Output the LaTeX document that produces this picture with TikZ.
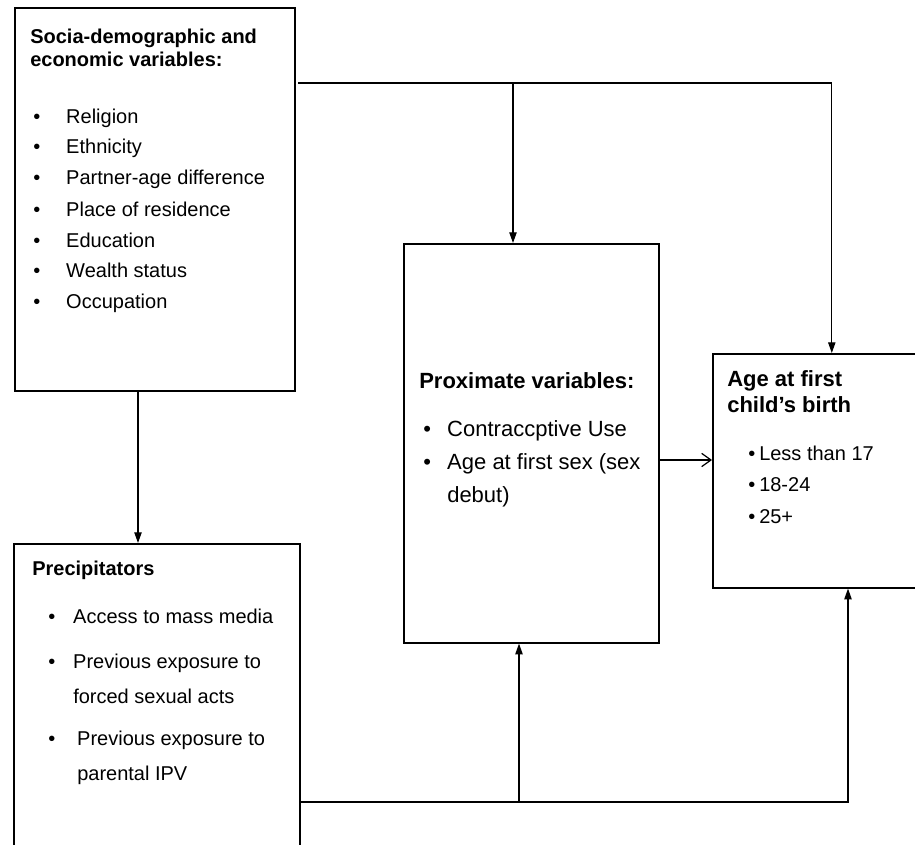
\documentclass[tikz,border=0pt]{standalone}
\usepackage{fontspec}
\setmainfont{Liberation Sans}
\usetikzlibrary{arrows.meta,positioning,calc}

\newcommand{\bul}[1][24.75pt]{\makebox[#1][l]{\textbullet}}

\begin{document}
\begin{tikzpicture}[x=0.75pt,y=-0.75pt,
    box/.style={draw,line width=1.2pt,anchor=north west,inner sep=0pt},
    hdr/.style={font=\fontsize{15}{17.25}\selectfont\bfseries,align=left,
                anchor=base west,inner sep=0pt},
    lst/.style={font=\fontsize{15}{23.25}\selectfont,align=left,
                anchor=base west,inner sep=0pt},
    link/.style={line width=0.9pt},
    arr/.style={link,-{Triangle[length=8pt,width=5.5pt]}}]

    \useasboundingbox (0,0) rectangle (915,845);

    % the four boxes
    \node[box,minimum width=210pt,minimum height=287.25pt] (socio) at (14,7) {};
    \node[box,minimum width=214.5pt,minimum height=300pt] (prec) at (13,543) {};
    \node[box,minimum width=191.25pt,minimum height=299.25pt] (prox) at (403,243) {};
    \node[box,minimum width=178.5pt,minimum height=175.5pt] (age) at (712,353) {};

    % socio-demographic block (nodes sit on the baseline of their last line)
    \node[hdr] (sociohdr) at (30,67) {Socia-demographic and\\economic variables:};
    \node[lst] (sociolst) at (33,309)
      {\bul Religion\\ \bul Ethnicity\\ \bul Partner-age difference\\
       \bul Place of residence\\ \bul Education\\ \bul Wealth status\\
       \bul Occupation};

    % precipitators
    \node[hdr] (prechdr) at (32,575) {Precipitators};
    \node[lst,font=\fontsize{15}{26.25}\selectfont] (preclst) at (48,780)
      {\bul[18.75pt]Access to mass media\\[7.5pt]
       \bul[18.75pt]Previous exposure to\\ \hspace*{18.75pt}forced sexual acts\\[5.25pt]
       \bul[21.75pt]Previous exposure to\\ \hspace*{21.75pt}parental IPV};

    % proximate variables
    \node[hdr,font=\fontsize{16.5}{19.5}\selectfont\bfseries] (proxhdr) at (419,388)
      {Proximate variables:};
    \node[lst,font=\fontsize{16.5}{24.75}\selectfont] (proxlst) at (423,502)
      {\bul[18pt]Contraccptive Use\\ \bul[18pt]Age at first sex (sex\\
       \hspace*{18pt}debut)};

    % outcome
    \node[hdr,font=\fontsize{16.5}{19.5}\selectfont\bfseries] (agehdr) at (727,412)
      {Age at first\\child’s birth};
    \node[lst,font=\fontsize{15}{23.6}\selectfont] (agelst) at (748,523)
      {\bul[8.25pt]Less than 17\\ \bul[8.25pt]18-24\\ \bul[8.25pt]25+};

    % connectors
    \coordinate (topbus) at (298,83);
    \coordinate (topdrop) at (513,83);
    \coordinate (lowbus) at (prec.east |- 0,802);
    \coordinate (lowrise) at (519,802);

    \draw[arr] (topbus) -| (age.north);
    \draw[arr] (topdrop) -- (topdrop |- prox.north);
    \draw[arr] (socio.south -| 138,0) -- (prec.north -| 138,0);
    \draw[arr] (lowbus) -| (age.south -| 848,0);
    \draw[arr] (lowrise) -- (lowrise |- prox.south);
    \draw[link,-{Straight Barb[length=7pt,width=10pt]}]
      (prox.east |- 0,460) -- (age.west |- 0,460);
\end{tikzpicture}
\end{document}
